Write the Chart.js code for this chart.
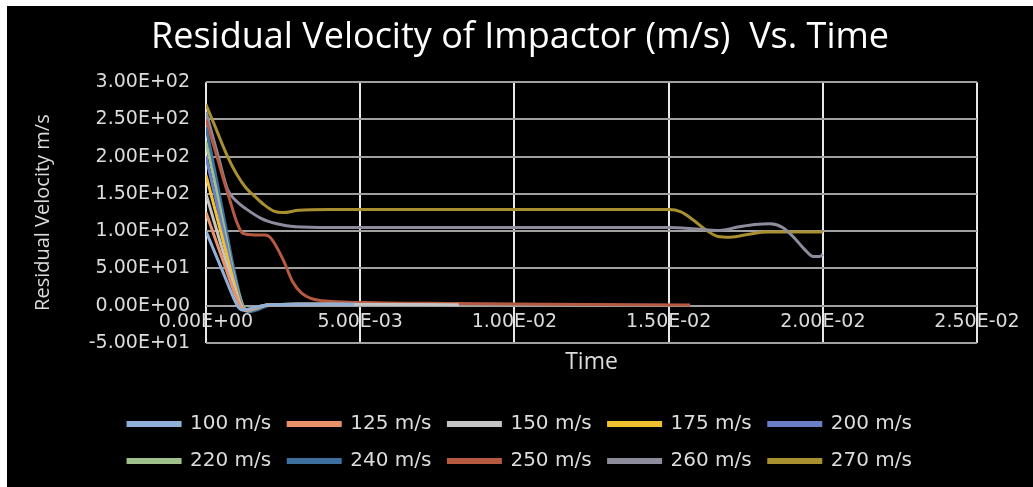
<!DOCTYPE html>
<html lang="en">
<head>
<meta charset="UTF-8">
<title>Residual Velocity of Impactor (m/s) Vs. Time</title>
<script src="https://cdn.jsdelivr.net/npm/chart.js"></script>
<style>
    body {
        margin: 0;
        background: #ffffff;
    }
    #wrap {
        position: absolute;
        left: 7px;
        top: 6px;
        width: 1026px;
        height: 481px;
        background: #000000;
    }
</style>
</head>
<body>
<div id="wrap"><canvas id="chart"></canvas></div>
<script>
// impact speeds (legend)
const speedLabels = ['100 m/s', '125 m/s', '150 m/s', '175 m/s', '200 m/s',
                     '220 m/s', '240 m/s', '250 m/s', '260 m/s', '270 m/s'];

// time (s) and residual velocity (m/s), one pair per run
const time100 = [0, 0.0003, 0.0006, 0.0009, 0.00105, 0.0012, 0.0015, 0.002, 0.003, 0.0048];
const vel100  = [100, 70, 40, 10, -2, -6, -3, 1, 2, 2];
const time125 = [0, 0.0003, 0.0006, 0.0009, 0.0011, 0.0013, 0.0016, 0.002, 0.003, 0.0045];
const vel125  = [125, 90, 55, 20, 0, -6, -3, 1, 2, 2];
const time150 = [0, 0.0003, 0.0006, 0.0009, 0.0011, 0.0013, 0.0016, 0.002, 0.004, 0.0082];
const vel150  = [150, 108, 66, 25, 2, -6, -3, 1, 2, 1.5];
const time175 = [0, 0.0003, 0.0006, 0.0009, 0.00112, 0.0013, 0.0016, 0.002, 0.003, 0.004];
const vel175  = [175, 128, 80, 32, 2, -6, -3, 1, 2, 2];
const time200 = [0, 0.0003, 0.0006, 0.0009, 0.00115, 0.0013, 0.0016, 0.002, 0.003, 0.0045];
const vel200  = [200, 146, 92, 38, 2, -7, -3, 1, 2, 2];
const time220 = [0, 0.0003, 0.0006, 0.0009, 0.00118, 0.00135, 0.0016, 0.002, 0.003, 0.0042];
const vel220  = [220, 162, 102, 42, 2, -7, -4, 1, 2, 2];
const time240 = [0, 0.0003, 0.0006, 0.0009, 0.00118, 0.0014, 0.0017, 0.0021, 0.003, 0.0048];
const vel240  = [240, 178, 114, 50, 2, -8, -5, 1, 2, 2];
const time250 = [0, 0.0003, 0.00055, 0.0008, 0.001, 0.0012, 0.0016, 0.0019, 0.0021, 0.0025,
                 0.0028, 0.0031, 0.0034, 0.004, 0.0055, 0.008, 0.011, 0.0157];
const vel250  = [250, 208, 172, 138, 112, 97, 95, 95, 91, 62, 33, 17, 10, 6, 4, 3, 2, 1];
const time260 = [0, 0.0002, 0.0004, 0.0007, 0.001, 0.0013, 0.0018, 0.0023, 0.0029, 0.004,
                 0.015, 0.0159, 0.0166, 0.0173, 0.0178, 0.0183, 0.0187, 0.0191, 0.0194,
                 0.0197, 0.0199, 0.02];
const vel260  = [260, 230, 200, 156, 140, 130, 117, 110, 106, 105, 105, 103, 101, 106, 109,
                 110, 105, 90, 76, 66, 66, 69];
const time270 = [0, 0.0003, 0.0007, 0.001, 0.0013, 0.0016, 0.0019, 0.0022, 0.0025, 0.003,
                 0.004, 0.015, 0.0154, 0.0158, 0.0162, 0.0166, 0.017, 0.0176, 0.0182, 0.02];
const vel270  = [270, 240, 200, 176, 158, 146, 135, 127, 125, 128, 129, 129, 126, 115, 102,
                 93, 92, 96, 99, 99];

const runs = [[time100, vel100], [time125, vel125], [time150, vel150], [time175, vel175],
              [time200, vel200], [time220, vel220], [time240, vel240], [time250, vel250],
              [time260, vel260], [time270, vel270]];

const lineColors = ['#8fb0d8', '#e8916a', '#c4c4c4', '#f0c030', '#6b7fc8',
                    '#9fc08a', '#3f6f9f', '#b55a40', '#8c8c9c', '#a89030'];

// Excel style 0.00E+00 labels
function sci(v) {
    if (Math.abs(v) < 1e-12) return '0.00E+00';
    const e = Math.floor(Math.log10(Math.abs(v)) + 1e-9);
    const m = v / Math.pow(10, e);
    return m.toFixed(2) + 'E' + (e < 0 ? '-' : '+') + String(Math.abs(e)).padStart(2, '0');
}

const datasets = runs.map((run, i) => ({
    label: speedLabels[i],
    data: run[0].map((t, k) => ({ x: t, y: run[1][k] })),
    borderColor: lineColors[i],
    backgroundColor: lineColors[i],
    borderWidth: 3,
    pointRadius: 0,
    cubicInterpolationMode: 'monotone',
    fill: false
}));

// legend holds five entries a row, like the picture
const fiveAcross = {
    id: 'fiveAcross',
    afterLayout(chart) {
        const legend = chart.legend;
        const w = 880;
        legend.maxWidth = w;
        legend.fit();
        legend.left = (chart.width - w) / 2;
        legend.right = legend.left + w;
    }
};

const tickColor = '#dcdcdc';

new Chart(document.getElementById('chart'), {
    type: 'line',
    data: { datasets: datasets },
    plugins: [fiveAcross],
    options: {
        responsive: true,
        maintainAspectRatio: false,
        animation: false,
        layout: { padding: { left: 0, right: 0, top: 0, bottom: 6 } },
        plugins: {
            title: {
                display: true,
                text: 'Residual Velocity of Impactor (m/s)  Vs. Time',
                color: '#ffffff',
                font: { family: 'Open Sans', size: 36, weight: 'normal' },
                padding: { top: 10, bottom: 23 }
            },
            legend: {
                position: 'bottom',
                labels: {
                    color: tickColor,
                    font: { family: 'DejaVu Sans', size: 20 },
                    boxWidth: 52,
                    boxHeight: 3,
                    padding: 17
                }
            },
            tooltip: { enabled: false }
        },
        scales: {
            x: {
                type: 'linear',
                min: 0,
                max: 0.025,
                afterFit: (scale) => {
                    scale.height = 54;
                    scale.paddingRight = 56;
                },
                ticks: {
                    stepSize: 0.005,
                    autoSkip: false,
                    maxRotation: 0,
                    // labels sit just under the zero line, inside the plot
                    mirror: true,
                    padding: 10,
                    color: tickColor,
                    font: { family: 'DejaVu Sans', size: 19 },
                    callback: (v) => sci(v)
                },
                grid: { color: '#e8e8e8', lineWidth: 2, drawTicks: false },
                border: { display: false },
                title: {
                    display: true,
                    text: 'Time',
                    color: tickColor,
                    font: { family: 'Open Sans', size: 23 },
                    padding: { top: 0, bottom: 21 }
                }
            },
            y: {
                min: -50,
                max: 300,
                afterFit: (scale) => { scale.width = 199; },
                ticks: {
                    stepSize: 50,
                    padding: 16,
                    color: tickColor,
                    font: { family: 'DejaVu Sans', size: 19 },
                    callback: (v) => sci(v)
                },
                grid: { color: '#a0a0a0', lineWidth: 2, drawTicks: false },
                border: { display: false },
                title: {
                    display: true,
                    text: 'Residual Velocity m/s',
                    color: tickColor,
                    font: { family: 'Open Sans', size: 20 },
                    padding: { top: 24, bottom: 0 }
                }
            }
        }
    }
});
</script>
</body>
</html>
